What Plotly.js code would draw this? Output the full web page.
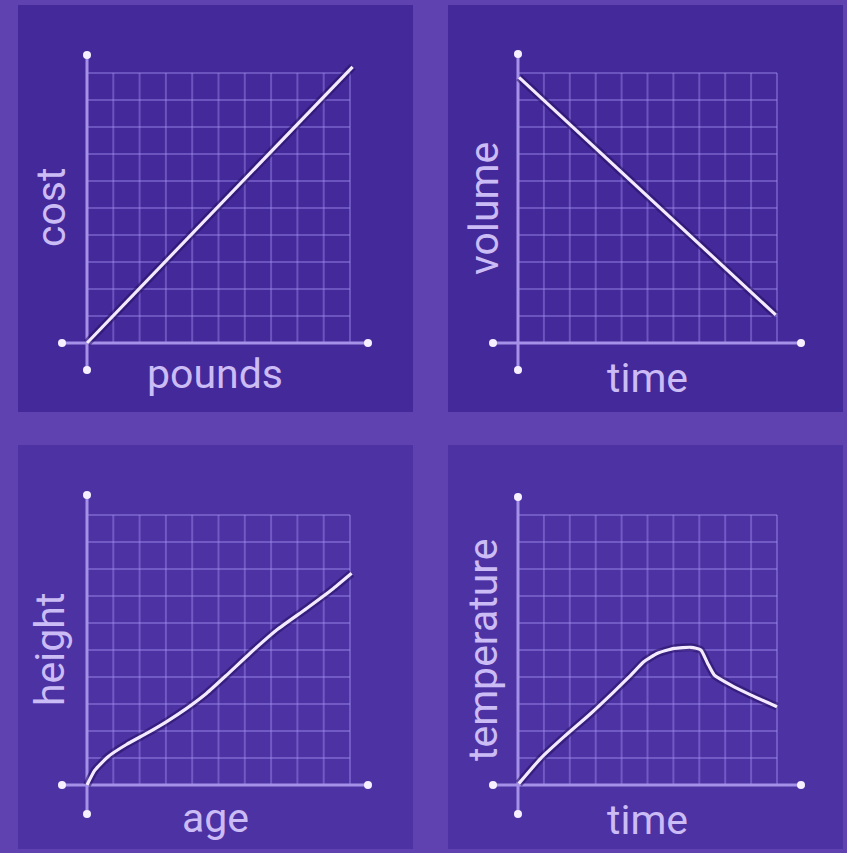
<!DOCTYPE html>
<html>
<head>
<meta charset="utf-8">
<script src="https://cdn.plot.ly/plotly-3.0.1.min.js"></script>
<style>
html,body{margin:0;padding:0;background:#5f41b0;}
#chart{width:847px;height:853px;}
</style>
</head>
<body>
<div id="chart"></div>
<script>
// ---- data (grid units 0..10) ----
const gridVals = [0,1,2,3,4,5,6,7,8,9,10];

const costX = [0, 10.1];
const costY = [0, 10.23];

const volumeX = [0.04, 9.95];
const volumeY = [9.84, 1.04];

const heightX = [0, 0.3, 0.8, 1.5, 2.3, 3.03, 3.79, 4.55, 5.31, 6.2, 7.21, 8.35, 9.37, 10.06];
const heightY = [0, 0.55, 1.05, 1.5, 1.93, 2.35, 2.84, 3.40, 4.07, 4.88, 5.74, 6.54, 7.28, 7.84];

const tempX = [0.03, 0.88, 1.78, 2.81, 3.71, 4.36, 4.87, 5.39, 6.03, 6.68, 7.06, 7.32, 7.58, 8.22, 9.0, 10.0];
const tempY = [0.05, 0.99, 1.79, 2.65, 3.46, 4.07, 4.57, 4.88, 5.06, 5.10, 5.0, 4.51, 4.07, 3.70, 3.33, 2.90];

const xLabels = ["pounds", "time", "age", "time"];
const yLabels = ["cost", "volume", "height", "temperature"];

// ---- layout geometry (pixels) ----
const W = 847, H = 853;
const panels = [
  {x0:18, x1:413, y0:5,   y1:412, gx0:87,  gx1:350, gy0:343, gy1:73,  hx0:62,  hx1:368, vy0:55,  vy1:370, fill:'#44299a',
   xl:[215,374], yl:[51,208]},
  {x0:448,x1:843, y0:5,   y1:412, gx0:518, gx1:777, gy0:343, gy1:73,  hx0:493, hx1:801, vy0:54,  vy1:370, fill:'#44299a',
   xl:[647,378], yl:[484,209]},
  {x0:18, x1:413, y0:445, y1:849, gx0:87,  gx1:350, gy0:785, gy1:515, hx0:62,  hx1:368, vy0:495, vy1:814, fill:'#4d32a4',
   xl:[215,818], yl:[50,650]},
  {x0:448,x1:843, y0:445, y1:849, gx0:518, gx1:777, gy0:785, gy1:515, hx0:493, hx1:801, vy0:497, vy1:814, fill:'#4d32a4',
   xl:[647,820], yl:[483,650]}
];
const series = [[costX,costY,'linear'],[volumeX,volumeY,'linear'],[heightX,heightY,'spline'],[tempX,tempY,'spline']];

const gridColor = 'rgba(165,145,240,0.42)';
const axisColor = 'rgb(165,145,232)';
const lineColor = '#f4eaff';
const textColor = '#cbbcf5';

const traces = [];
const layout = {
  width: W, height: H,
  margin: {l:0, r:0, t:0, b:0},
  paper_bgcolor: '#5f41b0',
  plot_bgcolor: 'rgba(0,0,0,0)',
  showlegend: false,
  hovermode: false,
  shapes: [],
  annotations: []
};

panels.forEach((p, i) => {
  const n = i === 0 ? '' : String(i + 1);
  const xa = 'x' + n, ya = 'y' + n;
  const ux = (p.gx1 - p.gx0) / 10;
  const uy = (p.gy0 - p.gy1) / 10;
  const gmax = gridVals[gridVals.length - 1];

  layout['xaxis' + n] = {
    domain: [p.x0 / W, p.x1 / W],
    range: [(p.x0 - p.gx0) / ux, (p.x1 - p.gx0) / ux],
    visible: false, fixedrange: true, anchor: ya
  };
  layout['yaxis' + n] = {
    domain: [1 - p.y1 / H, 1 - p.y0 / H],
    range: [(p.gy0 - p.y1) / uy, (p.gy0 - p.y0) / uy],
    visible: false, fixedrange: true, anchor: xa
  };

  // panel background
  layout.shapes.push({type:'rect', xref:'paper', yref:'paper', layer:'below',
    x0:p.x0/W, x1:p.x1/W, y0:1-p.y1/H, y1:1-p.y0/H, fillcolor:p.fill, line:{width:0}});

  // grid lines
  const gx = [], gy = [];
  gridVals.forEach(v => {
    if (v > 0) { gx.push(v, v, null); gy.push(0, gmax, null); }
    if (v > 0) { gx.push(0, gmax, null); gy.push(v, v, null); }
  });
  traces.push({x:gx, y:gy, xaxis:xa, yaxis:ya, mode:'lines',
    line:{color:gridColor, width:2}, hoverinfo:'skip'});

  // axes with end dots
  const ax0 = (p.hx0 - p.gx0) / ux, ax1 = (p.hx1 - p.gx0) / ux;
  const ay0 = (p.gy0 - p.vy1) / uy, ay1 = (p.gy0 - p.vy0) / uy;
  traces.push({x:[ax0, ax1], y:[0, 0], xaxis:xa, yaxis:ya, mode:'lines+markers',
    line:{color:axisColor, width:3}, marker:{color:'#f6efff', size:8}});
  traces.push({x:[0, 0], y:[ay0, ay1], xaxis:xa, yaxis:ya, mode:'lines+markers',
    line:{color:axisColor, width:3}, marker:{color:'#f6efff', size:8}});

  // data line (shadow + line)
  const s = series[i];
  traces.push({x:s[0], y:s[1], xaxis:xa, yaxis:ya, mode:'lines',
    line:{color:'rgba(35,15,95,0.55)', width:8, shape:s[2], smoothing:0.5}});
  traces.push({x:s[0], y:s[1], xaxis:xa, yaxis:ya, mode:'lines',
    line:{color:lineColor, width:3.2, shape:s[2], smoothing:0.5}});

  // labels
  layout.annotations.push({text:xLabels[i], xref:'paper', yref:'paper',
    x:p.xl[0]/W, y:1-p.xl[1]/H, xanchor:'center', yanchor:'middle', showarrow:false,
    font:{family:'Roboto, Arial, sans-serif', size:41, color:textColor}});
  layout.annotations.push({text:yLabels[i], xref:'paper', yref:'paper',
    x:p.yl[0]/W, y:1-p.yl[1]/H, xanchor:'center', yanchor:'middle', showarrow:false, textangle:-90,
    font:{family:'Roboto, Arial, sans-serif', size:41, color:textColor}});
});

Plotly.newPlot('chart', traces, layout, {staticPlot:true, displayModeBar:false});
</script>
</body>
</html>
